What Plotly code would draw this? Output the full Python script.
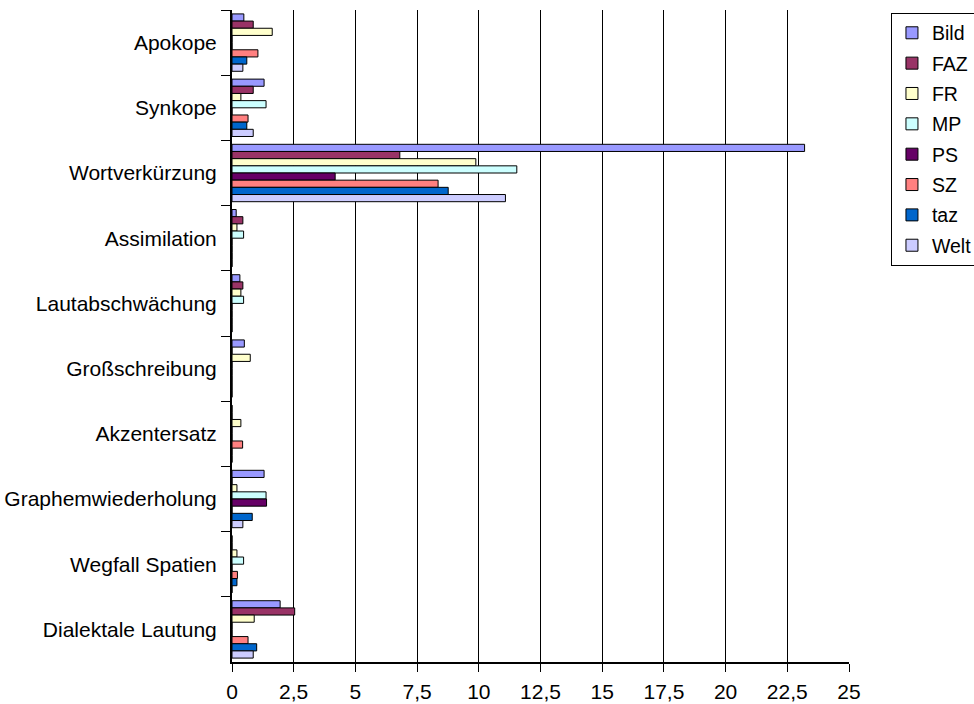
import plotly.graph_objects as go

categories = ["Apokope", "Synkope", "Wortverkürzung", "Assimilation", "Lautabschwächung",
              "Großschreibung", "Akzentersatz", "Graphemwiederholung", "Wegfall Spatien",
              "Dialektale Lautung"]

series_names = ["Bild", "FAZ", "FR", "MP", "PS", "SZ", "taz", "Welt"]

Bild = [0.48, 1.30, 23.2, 0.17, 0.32, 0.50, 0, 1.30, 0, 1.95]
FAZ = [0.86, 0.86, 6.8, 0.44, 0.44, 0, 0, 0, 0, 2.54]
FR = [1.63, 0.36, 9.88, 0.20, 0.36, 0.74, 0.36, 0.20, 0.20, 0.90]
MP = [0, 1.38, 11.54, 0.47, 0.47, 0, 0, 1.38, 0.47, 0]
PS = [0, 0, 4.18, 0, 0, 0, 0, 1.40, 0, 0]
SZ = [1.05, 0.65, 8.35, 0, 0, 0, 0.43, 0, 0.22, 0.65]
taz = [0.60, 0.60, 8.76, 0, 0, 0, 0, 0.82, 0.20, 1.00]
Welt = [0.44, 0.86, 11.08, 0, 0, 0, 0, 0.44, 0, 0.86]

series_values = [Bild, FAZ, FR, MP, PS, SZ, taz, Welt]
colors = ["#9999FF", "#993366", "#FFFFCC", "#CCFFFF", "#660066", "#FF8080", "#0066CC", "#CCCCFF"]

x_tickvals = [0, 2.5, 5, 7.5, 10, 12.5, 15, 17.5, 20, 22.5, 25]
x_ticktext = ["0", "2,5", "5", "7,5", "10", "12,5", "15", "17,5", "20", "22,5", "25"]

FONT = "Liberation Sans, Arial, sans-serif"

fig = go.Figure()
for name, vals, col in zip(series_names, series_values, colors):
    fig.add_trace(go.Bar(
        name=name, y=categories, x=vals, orientation="h",
        marker=dict(color=col, line=dict(color="#000000", width=1)),
        legendgroup=name,
    ))

fig.update_layout(
    width=974, height=704,
    margin=dict(l=232, r=125, t=10, b=42, autoexpand=False),
    paper_bgcolor="white", plot_bgcolor="white",
    barmode="group", bargap=0.12, bargroupgap=0,
    font=dict(family=FONT, size=21, color="#000000"),
    legend=dict(
        x=1.068, y=0.996, xanchor="left", yanchor="top",
        bordercolor="#000000", borderwidth=1, bgcolor="white",
        font=dict(family=FONT, size=19.5, color="#000000"),
        tracegroupgap=2,
    ),
    showlegend=True,
)

fig.update_xaxes(
    range=[0, 25], tickvals=x_tickvals, ticktext=x_ticktext,
    showgrid=True, gridcolor="#000000", gridwidth=1,
    showline=True, linecolor="#000000", linewidth=2,
    ticks="outside", ticklen=8, tickcolor="#000000",
    ticklabelstandoff=2,
    zeroline=False, fixedrange=True, automargin=False,
)
fig.update_yaxes(
    autorange="reversed", type="category",
    showgrid=False, showline=True, linecolor="#000000", linewidth=2,
    ticks="outside", ticklen=9, tickcolor="#000000", tickson="boundaries",
    ticklabelstandoff=9, automargin=False, fixedrange=True,
)

fig.write_html(
    "out.html",
    config={"displayModeBar": False, "staticPlot": True},
    post_script="document.body.style.margin='0';document.body.style.overflow='hidden';",
)
